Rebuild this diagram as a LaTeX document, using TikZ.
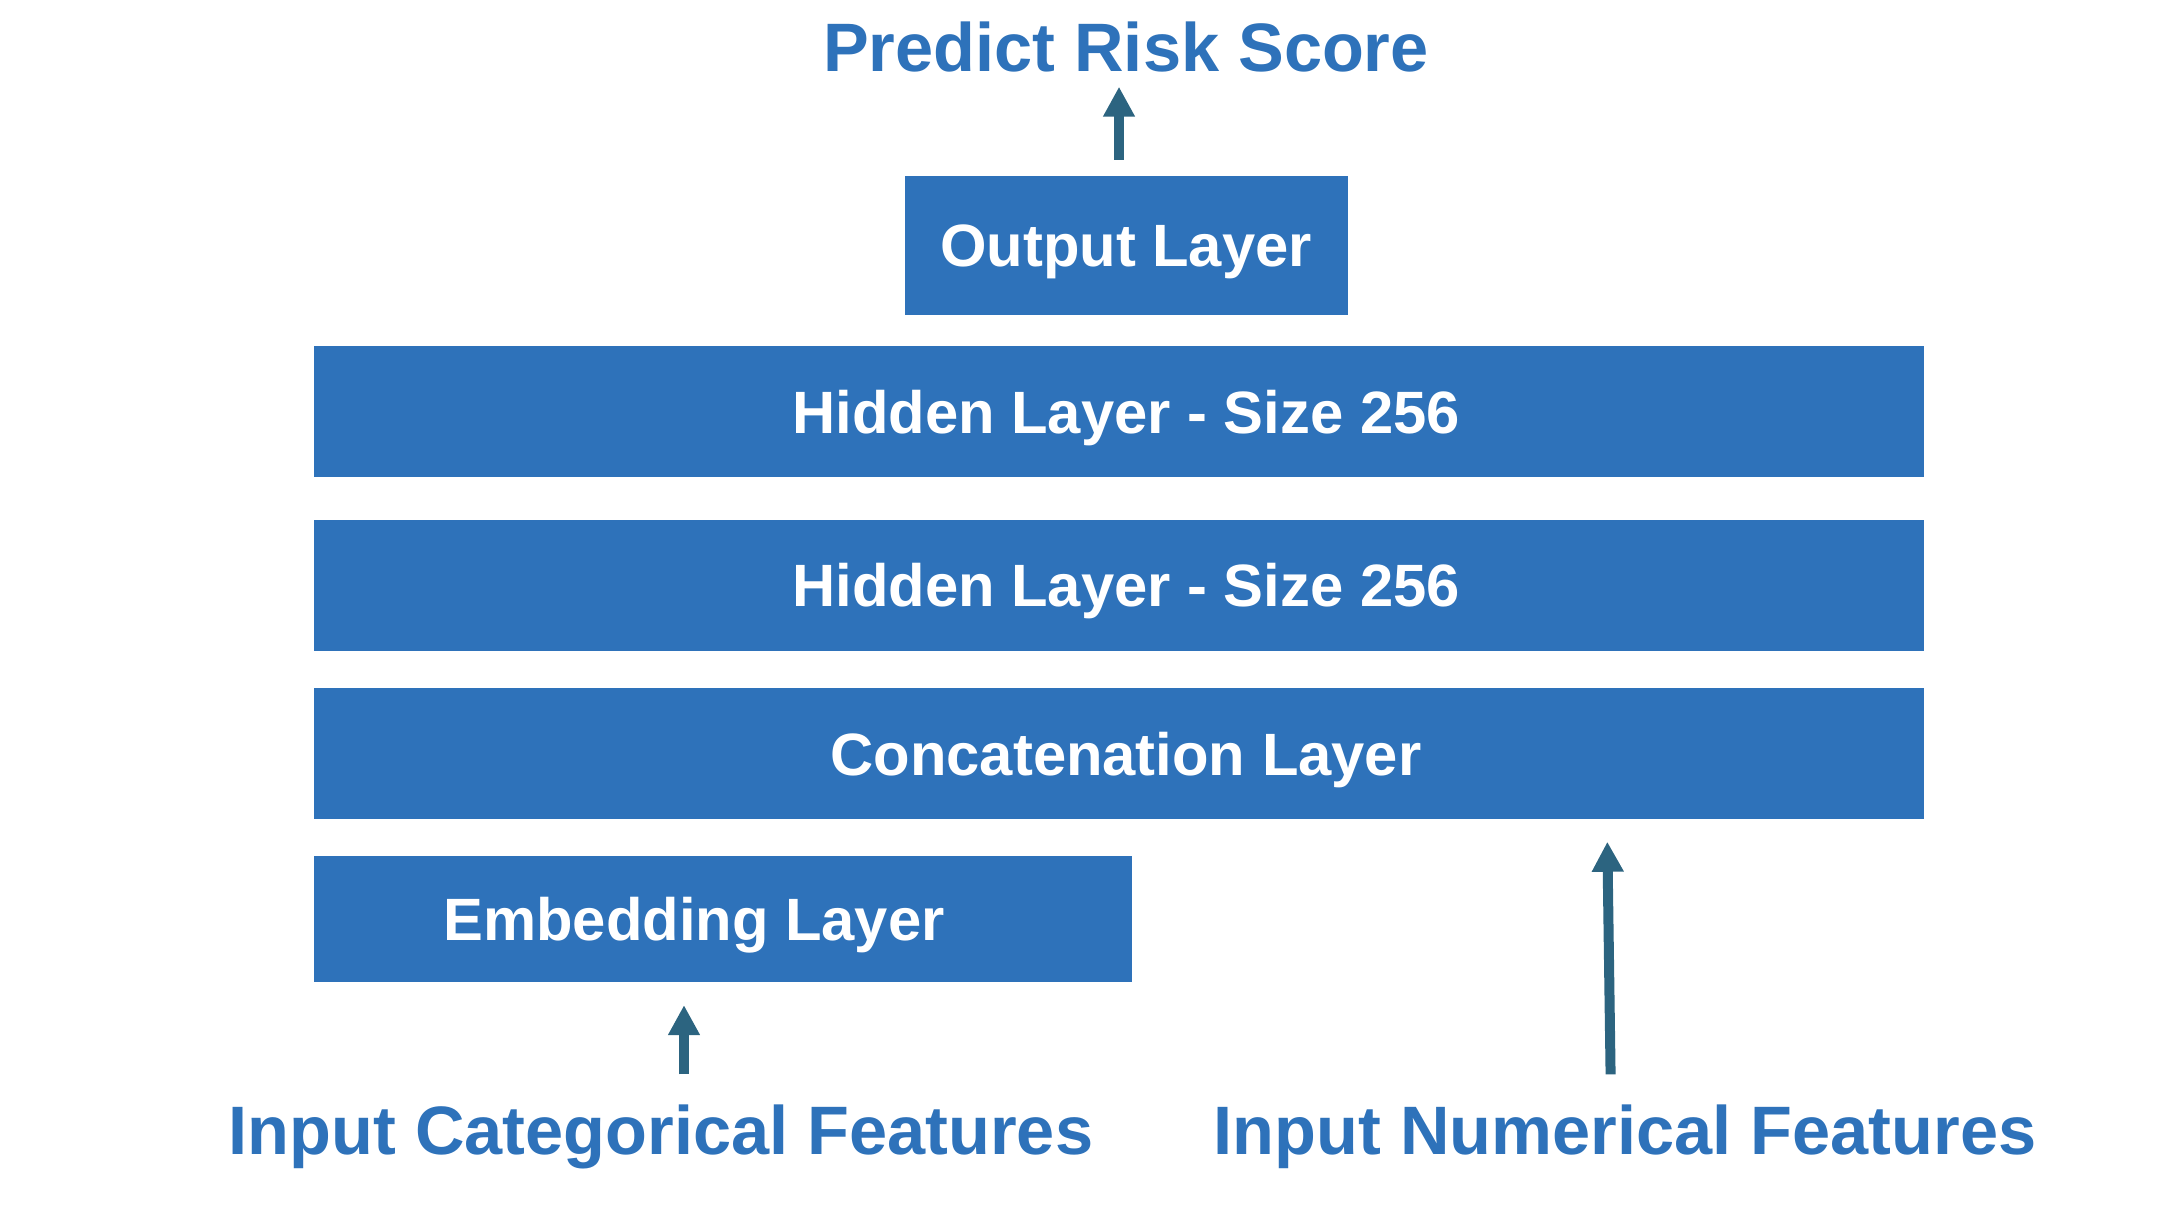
\documentclass[tikz,border=0pt]{standalone}
\usepackage{fontspec}
\setmainfont{Liberation Sans}
\usepackage{tikz}
\usetikzlibrary{
  arrows.meta,
  positioning
}
\definecolor{boxblue}{RGB}{46,114,186}
\definecolor{arrowteal}{RGB}{44,100,128}

\begin{document}
\begin{tikzpicture}[
      layer/.style={
         rectangle,
         fill=boxblue,
         minimum width=161mm,
         minimum height=13.1mm,
         inner sep=0pt,
         text=white,
         text height=4.3mm,
         text depth=0pt,
         font=\bfseries\fontsize{17}{20}\selectfont
      },
      caption/.style={
         inner sep=0pt,
         text=boxblue,
         text height=4.9mm,
         text depth=1.5mm,
         font=\bfseries\fontsize{19.5}{23}\selectfont
      },
      tip/.style={
         -{Triangle[length=3mm,width=3mm]},
         line width=1mm,
         draw=arrowteal
      }
    ]
    \useasboundingbox (0,0) rectangle (21.72,-12.20);
    % layers
    \node (n4) [layer] at (11.19,-7.535) {\hspace*{1.4mm}Concatenation Layer};
    \node (n3) [layer, above=3.6mm of n4] {\hspace*{1.4mm}Hidden Layer - Size 256};
    \node (n2) [layer, above=4.1mm of n3] {\hspace*{1.4mm}Hidden Layer - Size 256};
    \node (n1) [layer, above=3.0mm of n2, xshift=0.7mm, minimum width=44.3mm, minimum height=13.9mm] {Output Layer};
    \node (n5) [layer, below right=3.6mm and 0mm of n4.south west, minimum width=81.8mm, minimum height=12.6mm] {\hspace*{-5.8mm}Embedding Layer};
    % captions
    \node (n0) [caption, anchor=base] at (11.26,-0.71) {Predict Risk Score};
    \node (n6) [caption, anchor=base] at (6.61,-11.54) {Input Categorical Features};
    \node (n7) [caption, anchor=base] at (16.25,-11.54) {Input Numerical Features};
    \coordinate (c1) at (n7.north |- n4.south);
    % arrows
    \draw[tip, shorten <=1.55mm] ([xshift=-0.7mm]n1.north) -- ([xshift=-0.7mm]n1.north |- n0.south);
    \draw[tip, shorten <=3mm, shorten >=2.2mm] ([xshift=2.3mm]n6.north) -- ([xshift=2.3mm]n6.north |- n5.south);
    \draw[tip, shorten <=3mm, shorten >=2.2mm] ([xshift=-1.4mm]n7.north) -- ([xshift=-1.8mm]c1);
\end{tikzpicture}
\end{document}
